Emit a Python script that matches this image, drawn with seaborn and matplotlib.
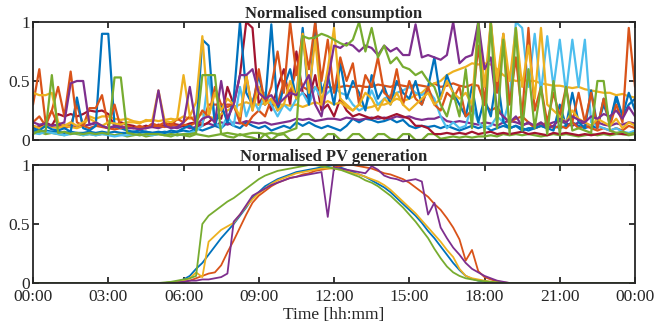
import numpy as np
import pandas as pd
import matplotlib
matplotlib.use("Agg")
import matplotlib.pyplot as plt
import seaborn as sns

# MATLAB default line colours
BLUE, ORANGE, YELLOW, PURPLE = "#0072BD", "#D95319", "#EDB120", "#7E2F8E"
GREEN, LIGHTBLUE, DARKRED = "#77AC30", "#4DBEEE", "#A2142F"

# consumption, 15 min steps from 00:00 to 24:00 (97 values per household)
cons_time = np.arange(97) * 0.25

blue_a = [0.10, 0.08, 0.12, 0.09, 0.08, 0.10, 0.07, 0.36, 0.10, 0.08, 0.12, 0.90,
          0.90, 0.12, 0.10, 0.08, 0.07, 0.08, 0.07, 0.06, 0.07, 0.06, 0.08, 0.07,
          0.10, 0.12, 0.08, 0.85, 0.80, 0.12, 0.30, 0.15, 0.35, 1.00, 0.40, 0.30,
          0.55, 0.30, 0.98, 0.25, 0.45, 0.60, 0.35, 0.95, 0.30, 1.00, 0.40, 0.55,
          0.30, 0.65, 0.35, 0.50, 0.40, 0.25, 0.55, 0.35, 0.45, 0.30, 0.50, 0.40,
          0.35, 0.50, 0.30, 0.45, 0.70, 0.35, 0.55, 0.40, 0.30, 0.20, 0.45, 0.15,
          0.35, 0.20, 0.55, 0.15, 0.10, 0.12, 0.08, 0.10, 0.10, 0.12, 0.10, 0.08,
          0.30, 0.12, 0.40, 0.15, 0.10, 0.42, 0.12, 0.30, 0.15, 0.35, 0.20, 0.40,
          0.25]
orange_a = [0.30, 0.60, 0.15, 0.25, 0.45, 0.20, 0.58, 0.15, 0.12, 0.27, 0.27, 0.38,
            0.12, 0.30, 0.10, 0.12, 0.10, 0.12, 0.10, 0.14, 0.12, 0.15, 0.12, 0.18,
            0.15, 0.20, 0.15, 0.25, 0.20, 0.45, 0.30, 0.30, 0.30, 0.15, 0.55, 0.25,
            0.60, 0.30, 0.45, 0.75, 0.40, 1.00, 0.55, 0.90, 0.60, 1.00, 0.50, 0.85,
            0.40, 0.70, 0.50, 0.65, 0.30, 0.55, 0.45, 0.70, 0.40, 0.35, 0.60, 0.30,
            0.50, 0.35, 0.30, 0.45, 0.30, 0.25, 0.40, 0.35, 0.45, 0.20, 0.25, 0.80,
            0.30, 1.00, 0.40, 0.90, 0.30, 0.70, 0.20, 0.95, 0.25, 0.45, 0.15, 0.40,
            0.20, 0.45, 0.15, 0.40, 0.15, 0.40, 0.10, 0.35, 0.12, 0.30, 0.15, 0.95,
            0.45]
yellow_a = [0.40, 0.38, 0.38, 0.40, 0.15, 0.12, 0.15, 0.12, 0.15, 0.18, 0.15, 0.12,
            0.15, 0.14, 0.13, 0.15, 0.15, 0.14, 0.17, 0.16, 0.42, 0.16, 0.15, 0.18,
            0.55, 0.20, 0.32, 0.88, 0.20, 0.40, 0.25, 0.35, 0.30, 0.20, 0.55, 0.25,
            0.45, 0.30, 0.35, 0.25, 0.30, 0.50, 0.35, 0.90, 0.40, 0.85, 0.30, 0.60,
            0.95, 0.35, 0.30, 0.25, 0.30, 0.40, 0.35, 0.25, 0.35, 0.30, 0.40, 0.30,
            0.25, 0.30, 0.35, 0.40, 0.30, 0.35, 0.50, 0.40, 0.35, 0.40, 0.30, 1.00,
            0.45, 1.00, 0.50, 0.90, 0.50, 0.95, 0.45, 0.80, 0.35, 0.95, 0.30, 0.25,
            0.20, 0.15, 0.25, 0.18, 0.15, 0.12, 0.18, 0.15, 0.12, 0.18, 0.10, 0.15,
            0.12]
purple_a = [0.15, 0.13, 0.14, 0.12, 0.13, 0.15, 0.48, 0.50, 0.50, 0.13, 0.15, 0.12,
            0.10, 0.12, 0.11, 0.10, 0.10, 0.09, 0.10, 0.11, 0.42, 0.12, 0.10, 0.11,
            0.15, 0.45, 0.12, 0.18, 0.20, 0.15, 0.50, 0.18, 0.30, 0.55, 0.55, 0.60,
            0.40, 0.35, 0.38, 0.30, 0.35, 0.40, 0.38, 0.45, 0.55, 0.30, 0.20, 0.50,
            0.80, 0.78, 0.82, 0.80, 0.75, 0.80, 0.78, 0.72, 0.80, 0.75, 0.78, 0.72,
            0.72, 0.98, 0.70, 0.72, 0.70, 0.68, 0.72, 1.00, 0.65, 0.70, 0.72, 1.00,
            0.60, 0.70, 0.25, 0.20, 0.15, 0.20, 0.12, 0.15, 0.12, 0.15, 0.10, 0.12,
            0.18, 0.15, 0.20, 0.17, 0.15, 0.20, 0.18, 0.22, 0.20, 0.25, 0.18, 0.28,
            0.20]
green_a = [0.05, 0.08, 0.07, 0.55, 0.06, 0.07, 0.05, 0.06, 0.05, 0.06, 0.05, 0.06,
           0.05, 0.53, 0.53, 0.06, 0.05, 0.04, 0.05, 0.05, 0.05, 0.04, 0.05, 0.04,
           0.05, 0.05, 0.06, 0.55, 0.55, 0.55, 0.05, 0.06, 0.05, 0.04, 0.05, 0.06,
           0.06, 0.05, 0.06, 0.05, 0.06, 0.08, 0.10, 0.88, 0.86, 0.87, 0.90, 0.88,
           0.85, 0.82, 0.80, 0.85, 1.00, 0.75, 0.95, 0.70, 0.80, 0.65, 0.70, 0.62,
           0.60, 0.55, 0.58, 0.50, 0.45, 0.30, 0.20, 0.40, 0.20, 0.60, 0.10, 1.00,
           0.05, 1.00, 0.10, 0.85, 0.05, 0.95, 0.08, 0.60, 0.10, 0.45, 0.05, 0.50,
           0.05, 0.45, 0.08, 0.10, 0.08, 0.06, 0.50, 0.50, 0.08, 0.06, 0.07, 0.05,
           0.06]
lightblue = [0.06, 0.05, 0.07, 0.06, 0.05, 0.04, 0.05, 0.06, 0.04, 0.05, 0.04, 0.05,
             0.04, 0.03, 0.04, 0.04, 0.05, 0.04, 0.05, 0.04, 0.05, 0.06, 0.05, 0.04,
             0.05, 0.06, 0.08, 0.12, 0.55, 0.15, 0.10, 0.20, 0.12, 0.45, 0.20, 0.35,
             0.25, 0.40, 0.30, 0.20, 0.30, 0.25, 0.35, 0.40, 0.30, 0.45, 0.35, 0.40,
             0.45, 0.40, 0.38, 0.30, 0.25, 0.28, 0.42, 0.30, 0.35, 0.38, 0.40, 0.42,
             0.45, 0.40, 0.38, 0.42, 0.35, 0.20, 0.10, 0.15, 0.10, 0.12, 0.30, 0.15,
             0.10, 0.12, 0.20, 0.15, 0.35, 1.00, 0.95, 0.45, 0.90, 0.40, 0.88, 0.45,
             0.85, 0.40, 0.85, 0.45, 0.85, 0.15, 0.12, 0.10, 0.08, 0.10, 0.07, 0.06,
             0.08]
darkred = [0.12, 0.10, 0.15, 0.12, 0.22, 0.20, 0.22, 0.20, 0.22, 0.25, 0.24, 0.25,
           0.22, 0.12, 0.15, 0.13, 0.12, 0.10, 0.12, 0.11, 0.13, 0.12, 0.14, 0.13,
           0.12, 0.14, 0.15, 0.12, 0.15, 0.20, 0.18, 0.45, 0.30, 0.55, 1.00, 0.95,
           0.30, 0.40, 0.25, 0.45, 0.60, 0.30, 0.75, 0.40, 0.35, 0.55, 0.25, 0.30,
           0.20, 0.35, 0.25, 0.20, 0.22, 0.20, 0.18, 0.20, 0.18, 0.20, 0.22, 0.20,
           0.18, 0.12, 0.12, 0.10, 0.05, 0.05, 0.06, 0.05, 0.06, 0.05, 0.07, 0.05,
           0.06, 0.07, 0.05, 0.06, 0.05, 0.06, 0.07, 0.05, 0.06, 0.05, 0.04, 0.06,
           0.05, 0.06, 0.05, 0.04, 0.05, 0.04, 0.05, 0.06, 0.05, 0.06, 0.05, 0.05,
           0.06]
blue_b = [0.08, 0.07, 0.08, 0.07, 0.07, 0.06, 0.07, 0.06, 0.06, 0.07, 0.06, 0.07,
          0.06, 0.07, 0.06, 0.06, 0.07, 0.06, 0.07, 0.06, 0.06, 0.07, 0.06, 0.07,
          0.08, 0.07, 0.10, 0.08, 0.10, 0.12, 0.10, 0.15, 0.12, 0.10, 0.15, 0.12,
          0.10, 0.12, 0.08, 0.10, 0.12, 0.10, 0.15, 0.12, 0.15, 0.12, 0.10, 0.12,
          0.10, 0.08, 0.12, 0.18, 0.15, 0.18, 0.17, 0.15, 0.16, 0.18, 0.15, 0.17,
          0.12, 0.10, 0.12, 0.11, 0.12, 0.10, 0.12, 0.10, 0.08, 0.10, 0.12, 0.10,
          0.12, 0.08, 0.10, 0.12, 0.10, 0.12, 0.10, 0.08, 0.10, 0.12, 0.10, 0.12,
          0.10, 0.12, 0.15, 0.12, 0.10, 0.12, 0.10, 0.35, 0.15, 0.38, 0.20, 0.30,
          0.35]
orange_b = [0.15, 0.20, 0.12, 0.25, 0.12, 0.10, 0.12, 0.30, 0.12, 0.10, 0.12, 0.11,
            0.10, 0.09, 0.10, 0.11, 0.10, 0.11, 0.10, 0.12, 0.12, 0.11, 0.13, 0.12,
            0.13, 0.12, 0.15, 0.14, 0.30, 0.30, 0.30, 0.28, 0.30, 0.15, 0.12, 0.20,
            0.25, 0.20, 0.35, 0.30, 0.50, 0.40, 0.60, 0.45, 0.42, 0.45, 0.43, 0.45,
            0.44, 0.45, 0.46, 0.45, 0.46, 0.45, 0.45, 0.47, 0.46, 0.45, 0.47, 0.46,
            0.45, 0.47, 0.46, 0.45, 0.48, 0.45, 0.46, 0.48, 0.46, 0.45, 0.47, 0.46,
            0.30, 0.25, 0.28, 0.20, 0.15, 0.18, 0.20, 0.15, 0.10, 0.12, 0.15, 0.10,
            0.12, 0.10, 0.15, 0.10, 0.12, 0.10, 0.08, 0.10, 0.08, 0.10, 0.08, 0.12,
            0.10]
yellow_b = [0.12, 0.10, 0.12, 0.11, 0.10, 0.12, 0.11, 0.10, 0.12, 0.20, 0.18, 0.20,
            0.20, 0.18, 0.17, 0.18, 0.16, 0.15, 0.16, 0.17, 0.16, 0.17, 0.18, 0.17,
            0.20, 0.18, 0.20, 0.22, 0.20, 0.18, 0.22, 0.25, 0.28, 0.30, 0.32, 0.30,
            0.30, 0.31, 0.32, 0.30, 0.30, 0.29, 0.30, 0.28, 0.30, 0.32, 0.30, 0.33,
            0.30, 0.32, 0.28, 0.25, 0.30, 0.27, 0.28, 0.30, 0.30, 0.32, 0.35, 0.33,
            0.35, 0.38, 0.40, 0.45, 0.48, 0.50, 0.55, 0.58, 0.60, 0.62, 0.65, 0.64,
            0.65, 0.64, 0.60, 0.55, 0.52, 0.50, 0.51, 0.50, 0.50, 0.48, 0.47, 0.46,
            0.46, 0.45, 0.44, 0.45, 0.43, 0.42, 0.41, 0.40, 0.40, 0.38, 0.39, 0.37,
            0.36]
green_b = [0.06, 0.07, 0.05, 0.06, 0.05, 0.04, 0.06, 0.05, 0.04, 0.05, 0.04, 0.05,
           0.05, 0.04, 0.05, 0.03, 0.04, 0.05, 0.03, 0.04, 0.05, 0.04, 0.03, 0.05,
           0.04, 0.03, 0.05, 0.04, 0.03, 0.04, 0.05, 0.03, 0.02, 0.05, 0.03, 0.02,
           0.00, 0.05, 0.00, 0.04, 0.05, 0.00, 0.00, 0.05, 0.05, 0.00, 0.00, 0.05,
           0.05, 0.00, 0.00, 0.05, 0.05, 0.00, 0.00, 0.05, 0.05, 0.01, 0.00, 0.05,
           0.05, 0.00, 0.00, 0.05, 0.05, 0.01, 0.02, 0.03, 0.02, 0.03, 0.02, 0.03,
           0.03, 0.04, 0.03, 0.05, 0.04, 0.05, 0.04, 0.05, 0.04, 0.03, 0.04, 0.05,
           0.04, 0.05, 0.04, 0.03, 0.04, 0.05, 0.04, 0.05, 0.04, 0.05, 0.05, 0.04,
           0.05]
purple_b = [0.10, 0.12, 0.11, 0.13, 0.12, 0.13, 0.12, 0.11, 0.12, 0.13, 0.14, 0.12,
            0.10, 0.11, 0.12, 0.10, 0.11, 0.10, 0.12, 0.11, 0.10, 0.12, 0.11, 0.10,
            0.12, 0.10, 0.11, 0.13, 0.14, 0.12, 0.15, 0.13, 0.15, 0.14, 0.16, 0.15,
            0.14, 0.15, 0.13, 0.14, 0.15, 0.16, 0.18, 0.17, 0.18, 0.16, 0.17, 0.18,
            0.18, 0.17, 0.19, 0.18, 0.17, 0.18, 0.19, 0.18, 0.19, 0.18, 0.20, 0.19,
            0.20, 0.18, 0.17, 0.18, 0.18, 0.20, 0.16, 0.15, 0.16, 0.15, 0.14, 0.13,
            0.15, 0.14, 0.12, 0.15, 0.16, 0.15, 0.13, 0.14, 0.12, 0.14, 0.13, 0.15,
            0.16, 0.14, 0.12, 0.15, 0.14, 0.12, 0.15, 0.13, 0.12, 0.14, 0.13, 0.15,
            0.14]

consumption = {
    "blue_b": (blue_b, BLUE), "green_b": (green_b, GREEN), "purple_b": (purple_b, PURPLE),
    "darkred": (darkred, DARKRED), "orange_b": (orange_b, ORANGE), "yellow_b": (yellow_b, YELLOW),
    "lightblue": (lightblue, LIGHTBLUE), "blue_a": (blue_a, BLUE), "orange_a": (orange_a, ORANGE),
    "yellow_a": (yellow_a, YELLOW), "purple_a": (purple_a, PURPLE), "green_a": (green_a, GREEN),
}

# PV, 15 min steps from 05:00 to 19:00, zero during the night
pv_day_time = 5 + np.arange(57) * 0.25
pv_blue = [0, 0, 0.005, 0.01, 0.03, 0.06, 0.12, 0.17, 0.24, 0.31, 0.38, 0.44,
           0.50, 0.57, 0.64, 0.72, 0.77, 0.82, 0.85, 0.88, 0.90, 0.92, 0.94, 0.95,
           0.96, 0.97, 0.98, 0.99, 1.00, 0.98, 0.96, 0.94, 0.92, 0.90, 0.87, 0.84,
           0.81, 0.77, 0.72, 0.67, 0.62, 0.57, 0.51, 0.44, 0.38, 0.31, 0.24, 0.17,
           0.11, 0.06, 0.035, 0.02, 0.01, 0.005, 0.002, 0, 0]
pv_orange = [0, 0, 0, 0.005, 0.01, 0.02, 0.04, 0.06, 0.08, 0.09, 0.15, 0.26,
             0.36, 0.47, 0.58, 0.68, 0.74, 0.78, 0.82, 0.85, 0.87, 0.89, 0.90, 0.92,
             0.93, 0.95, 0.96, 0.97, 0.98, 0.99, 1.00, 1.00, 0.99, 0.98, 0.97, 0.95,
             0.93, 0.92, 0.90, 0.88, 0.85, 0.81, 0.77, 0.73, 0.67, 0.62, 0.55, 0.47,
             0.37, 0.19, 0.28, 0.10, 0.05, 0.03, 0.015, 0.005, 0]
pv_yellow = [0, 0, 0.005, 0.01, 0.02, 0.04, 0.09, 0.05, 0.35, 0.40, 0.45, 0.48,
             0.51, 0.58, 0.65, 0.71, 0.76, 0.80, 0.84, 0.87, 0.89, 0.91, 0.93, 0.94,
             0.95, 0.96, 0.97, 0.97, 0.97, 0.96, 0.95, 0.93, 0.92, 0.90, 0.88, 0.86,
             0.83, 0.79, 0.74, 0.69, 0.64, 0.59, 0.53, 0.47, 0.41, 0.35, 0.28, 0.22,
             0.12, 0.06, 0.04, 0.03, 0.02, 0.01, 0.005, 0, 0]
pv_purple = [0, 0, 0, 0.005, 0.01, 0.02, 0.02, 0.03, 0.03, 0.04, 0.05, 0.08,
             0.52, 0.58, 0.66, 0.74, 0.77, 0.80, 0.83, 0.85, 0.87, 0.89, 0.90, 0.91,
             0.92, 0.93, 0.94, 0.56, 0.98, 0.97, 0.96, 0.95, 0.94, 0.93, 0.99, 0.96,
             0.91, 0.89, 0.88, 0.86, 0.87, 0.88, 0.86, 0.58, 0.68, 0.47, 0.38, 0.30,
             0.24, 0.17, 0.12, 0.09, 0.06, 0.04, 0.02, 0.01, 0]
pv_green = [0, 0.005, 0.01, 0.02, 0.03, 0.04, 0.06, 0.50, 0.57, 0.61, 0.65, 0.69,
            0.72, 0.76, 0.80, 0.84, 0.88, 0.91, 0.93, 0.95, 0.96, 0.97, 0.98, 0.99,
            1.00, 1.00, 0.99, 0.98, 0.97, 0.96, 0.94, 0.92, 0.90, 0.87, 0.85, 0.82,
            0.78, 0.74, 0.69, 0.64, 0.58, 0.52, 0.45, 0.38, 0.29, 0.21, 0.14, 0.09,
            0.06, 0.04, 0.03, 0.02, 0.015, 0.01, 0.005, 0, 0]

pv = {
    "blue": (pv_blue, BLUE), "orange": (pv_orange, ORANGE), "yellow": (pv_yellow, YELLOW),
    "purple": (pv_purple, PURPLE), "green": (pv_green, GREEN),
}

hour_ticks = np.arange(0, 25, 3)
hour_labels = ["00:00", "03:00", "06:00", "09:00", "12:00", "15:00", "18:00", "21:00", "00:00"]

sns.set_theme(style="ticks")
plt.rcParams["font.family"] = ["Liberation Serif", "DejaVu Serif"]
plt.rcParams["font.size"] = 12.5

cons_rows = []
for name, (vals, col) in consumption.items():
    cons_rows.append(pd.DataFrame({"time": cons_time, "value": vals, "series": name}))
cons_df = pd.concat(cons_rows, ignore_index=True)
cons_palette = {name: col for name, (vals, col) in consumption.items()}

pv_rows = []
for name, (vals, col) in pv.items():
    t = np.concatenate([[0.0], pv_day_time, [24.0]])
    v = np.concatenate([[0.0], vals, [0.0]])
    pv_rows.append(pd.DataFrame({"time": t, "value": v, "series": name}))
pv_df = pd.concat(pv_rows, ignore_index=True)
pv_palette = {name: col for name, (vals, col) in pv.items()}

fig = plt.figure(figsize=(6.54, 3.26), dpi=100)
ax1 = fig.add_axes([0.0505, 0.5706, 0.9205, 0.3619])
ax2 = fig.add_axes([0.0505, 0.1319, 0.9205, 0.3620])

sns.lineplot(data=cons_df, x="time", y="value", hue="series", palette=cons_palette,
             estimator=None, sort=False, linewidth=1.6, legend=False, ax=ax1)
sns.lineplot(data=pv_df, x="time", y="value", hue="series", palette=pv_palette,
             estimator=None, sort=False, linewidth=1.3, legend=False, ax=ax2)

for ax in (ax1, ax2):
    ax.set_xlim(0, 24)
    ax.set_ylim(0, 1)
    ax.set_xticks(hour_ticks)
    ax.set_yticks([0, 0.5, 1])
    ax.set_yticklabels(["0", "0.5", "1"])
    ax.set_ylabel("")
    ax.tick_params(direction="in", top=True, right=True, length=4, width=1.3,
                   color="#262626", labelcolor="#262626", labelsize=12.5)
    ax.tick_params(axis="y", pad=2)
    ax.tick_params(axis="x", pad=4)
    for sp in ax.spines.values():
        sp.set_visible(True)
        sp.set_linewidth(1.3)
        sp.set_color("#262626")

ax1.set_xticklabels([])
ax1.set_xlabel("")
ax2.set_xticklabels(hour_labels)
ax2.set_xlabel("Time [hh:mm]", fontsize=12.5, color="#262626", labelpad=2)

ax1.set_title("Normalised consumption", fontsize=12, fontweight="bold", pad=3)
ax2.set_title("Normalised PV generation", fontsize=12, fontweight="bold", pad=3)

fig.savefig("out.png", dpi=100, facecolor="white")
